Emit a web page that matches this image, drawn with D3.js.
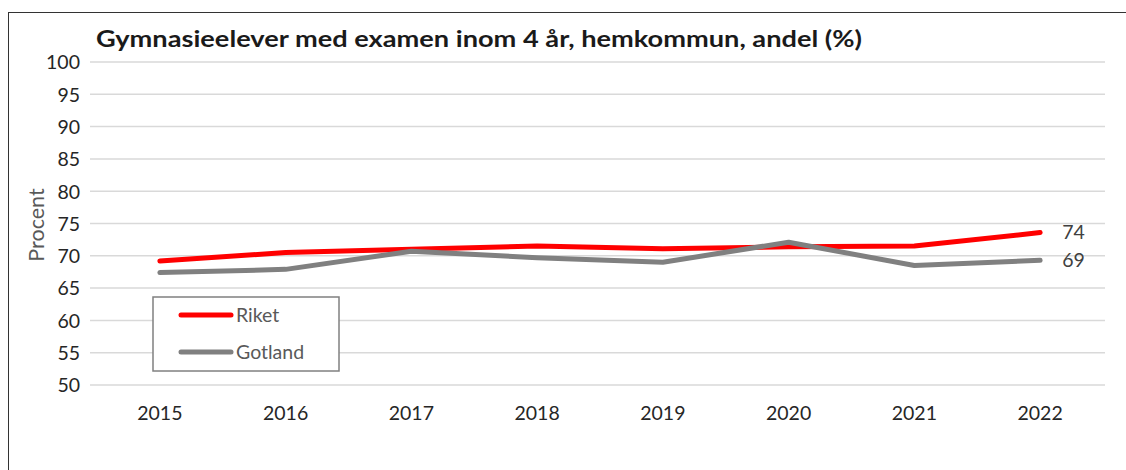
<!DOCTYPE html>
<html><head><meta charset="utf-8">
<script src="https://cdn.jsdelivr.net/npm/d3@7"></script>
<style>body{margin:0;background:#fff;} svg{display:block;}</style>
</head><body>
<script>
const years = ["2015","2016","2017","2018","2019","2020","2021","2022"];
const riket = [69.2, 70.5, 71.0, 71.5, 71.1, 71.4, 71.5, 73.6];
const gotland = [67.4, 67.9, 70.7, 69.7, 69.0, 72.1, 68.5, 69.3];
const yTicks = [50,55,60,65,70,75,80,85,90,95,100];
const seriesNames = ["Riket","Gotland"];
const endLabels = ["74","69"];
const title = "Gymnasieelever med examen inom 4 år, hemkommun, andel (%)";

const W=1126,H=470;
const svg=d3.select("body").append("svg").attr("width",W).attr("height",H);
const font="Lato, 'Open Sans', sans-serif";

// frame
svg.append("rect").attr("x",8.5).attr("y",12.5).attr("width",W+10).attr("height",H+10)
  .attr("fill","none").attr("stroke","#333").attr("stroke-width",1);

const x=d3.scaleBand().domain(years).range([97,1103]);
const y=d3.scaleLinear().domain([50,100]).range([385,62]);

// gridlines
svg.append("g").selectAll("line").data(yTicks).join("line")
  .attr("x1",90).attr("x2",1105).attr("y1",d=>y(d)).attr("y2",d=>y(d))
  .attr("stroke","#d9d9d9").attr("stroke-width",1.5);

// y axis labels
const yAxis=d3.axisLeft(y).tickValues(yTicks).tickSize(0).tickPadding(0);
const gy=svg.append("g").attr("transform","translate(80,0)").call(yAxis);
gy.select(".domain").remove();
gy.selectAll("text").attr("font-family",font).attr("font-size",19.5).attr("fill","#262626").attr("dy","0.35em");

// x axis labels
const xAxis=d3.axisBottom(x).tickSize(0).tickPadding(0);
const gx=svg.append("g").attr("transform","translate(0,413)").call(xAxis);
gx.select(".domain").remove();
gx.selectAll("text").attr("font-family",font).attr("font-size",19.5).attr("fill","#262626").attr("dy","0.35em");

// Y title
svg.append("text").attr("transform","translate(36,225) rotate(-90)").attr("text-anchor","middle")
  .attr("dy","0.35em").attr("font-family",font).attr("font-size",21.5).attr("fill","#595959").text("Procent");

// title
svg.append("text").attr("x",96).attr("y",47).attr("font-family",font).attr("font-weight","bold")
  .attr("font-size",22.5).attr("fill","#1a1a1a").attr("textLength",766).attr("lengthAdjust","spacingAndGlyphs").text(title);

const line=d3.line().x((d,i)=>x(years[i])+x.bandwidth()/2).y(d=>y(d));
const colors=["#ff0000","#808080"];
const data=[riket,gotland];
[0,1].forEach(k=>{
  svg.append("path").datum(data[k]).attr("d",line).attr("fill","none")
    .attr("stroke",colors[k]).attr("stroke-width",5).attr("stroke-linecap","round").attr("stroke-linejoin","round");
});

// end labels
[0,1].forEach(k=>{
  const v=data[k][data[k].length-1];
  svg.append("text").attr("x",x(years[7])+x.bandwidth()/2+22).attr("y",y(v)).attr("dy","0.35em")
    .attr("font-family",font).attr("font-size",19.5).attr("fill","#404040").text(endLabels[k]);
});

// legend
const lg=svg.append("g");
lg.append("rect").attr("x",153).attr("y",297).attr("width",186).attr("height",74)
  .attr("fill","#fff").attr("stroke","#808080").attr("stroke-width",1.5);
seriesNames.forEach((n,i)=>{
  const yy=315+i*37;
  lg.append("line").attr("x1",181).attr("x2",231).attr("y1",yy).attr("y2",yy)
    .attr("stroke",colors[i]).attr("stroke-width",5).attr("stroke-linecap","round");
  lg.append("text").attr("x",236).attr("y",yy).attr("dy","0.35em").attr("font-family",font)
    .attr("font-size",19.5).attr("fill","#595959").text(n);
});
</script>
</body></html>
